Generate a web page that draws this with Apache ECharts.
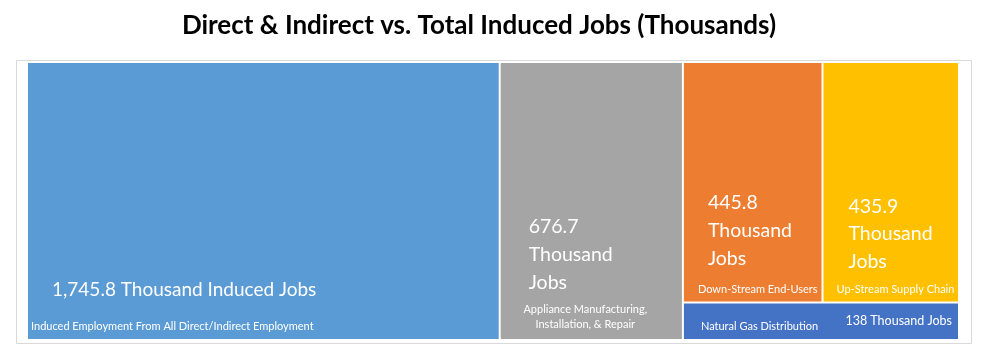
<!DOCTYPE html>
<html>
<head>
<meta charset="utf-8">
<script src="https://cdn.jsdelivr.net/npm/echarts@6/dist/echarts.min.js"></script>
<style>
  html, body { margin: 0; padding: 0; background: #ffffff; }
  #chart { width: 989px; height: 358px; }
</style>
</head>
<body>
<div id="chart"></div>
<script>
// ---- data ----
const categories = [
  'Induced Employment From All Direct/Indirect Employment',
  'Appliance Manufacturing, Installation, & Repair',
  'Down-Stream End-Users',
  'Up-Stream Supply Chain',
  'Natural Gas Distribution'
];
const jobs = [1745.8, 676.7, 445.8, 435.9, 138];
const jobUnits = ['Thousand Induced Jobs', 'Thousand Jobs', 'Thousand Jobs', 'Thousand Jobs', 'Thousand Jobs'];
const colors = ['#5B9BD5', '#A5A5A5', '#ED7D31', '#FFC000', '#4472C4'];
const titleText = 'Direct & Indirect vs. Total Induced Jobs (Thousands)';

// ---- label styling (per tile) ----
const FONT = 'Lato';
function fmt(v) { return v.toLocaleString('en-US', { maximumFractionDigits: 1 }); }
function rows(lines) { return lines.map(function (l) { return '{' + l[0] + '|' + l[1] + '}'; }).join('\n'); }
function stacked(val, unit) { return [val].concat(unit.split(' ')).map(function (t) { return ['v', t]; }); }

const labelStyles = [
  { padding: [199, 5, 0, 3],
    rich: { v: { fontSize: 19, lineHeight: 56, padding: [0, 0, 0, 21] }, n: { fontSize: 11, lineHeight: 16 } },
    text: function (val, unit, name) { return rows([['v', val + ' ' + unit], ['n', name]]); } },
  { padding: [150, 17, 0, 5],
    rich: { v: { fontSize: 19.5, lineHeight: 28, padding: [0, 0, 0, 23] }, s: { fontSize: 2, lineHeight: 5 }, n: { fontSize: 11, lineHeight: 15, align: 'center' } },
    text: function (val, unit, name) {
      return rows(stacked(val, unit).concat([['s', ' ']], name.replace(', ', ',\n').split('\n').map(function (t) { return ['n', t]; })));
    } },
  { padding: [126, 2, 0, 14],
    rich: { v: { fontSize: 19.5, lineHeight: 28, padding: [0, 0, 0, 10] }, s: { fontSize: 2, lineHeight: 11 }, n: { fontSize: 11, lineHeight: 10 } },
    text: function (val, unit, name) { return rows(stacked(val, unit).concat([['s', ' '], ['n', name]])); } },
  { padding: [129.5, 2, 0, 13],
    rich: { v: { fontSize: 19.5, lineHeight: 27.5, padding: [0, 0, 0, 12] }, s: { fontSize: 2, lineHeight: 9 }, n: { fontSize: 11, lineHeight: 10 } },
    text: function (val, unit, name) { return rows(stacked(val, unit).concat([['s', ' '], ['n', name]])); } },
  { padding: [8, 6, 0, 17],
    rich: { n: { fontSize: 11, lineHeight: 20, padding: [10, 0, 0, 0] }, v: { fontSize: 12.5, lineHeight: 20, align: 'right' } },
    text: function (val, unit, name) { return '{n|' + name + '}{v|' + val + ' ' + unit + '}'; } }
];

function leaf(i) {
  const st = labelStyles[i];
  const rich = {};
  Object.keys(st.rich).forEach(function (k) {
    rich[k] = Object.assign({ fontFamily: FONT, color: '#ffffff' }, st.rich[k]);
  });
  const txt = st.text(fmt(jobs[i]), jobUnits[i], categories[i]);
  return {
    name: categories[i],
    value: jobs[i],
    itemStyle: { color: colors[i] },
    label: {
      show: true,
      position: 'insideTopLeft',
      distance: 0,
      padding: st.padding,
      fontFamily: FONT,
      color: '#ffffff',
      overflow: 'none',
      formatter: function () { return txt; },
      rich: rich
    }
  };
}

// hierarchy: induced | appliance | [ [down-stream, up-stream], distribution ]
const treeData = [
  leaf(0),
  leaf(1),
  { name: 'Natural gas value chain', children: [
    { name: 'Supply and end-use', children: [leaf(2), leaf(3)] },
    leaf(4)
  ] }
];

const chart = echarts.init(document.getElementById('chart'), null, { renderer: 'canvas' });
const lvl = { itemStyle: { borderWidth: 0, gapWidth: 2, borderColor: '#ffffff' }, upperLabel: { show: false } };
chart.setOption({
  animation: false,
  backgroundColor: '#ffffff',
  textStyle: { fontFamily: FONT },
  title: {
    text: titleText,
    left: 479,
    top: 13,
    padding: 0,
    textAlign: 'center',
    textStyle: { fontFamily: FONT, fontWeight: 'bold', fontSize: 26, color: '#000000' }
  },
  graphic: [{
    type: 'rect', silent: true, z: -1,
    shape: { x: 16.5, y: 60.5, width: 955, height: 283 },
    style: { fill: 'none', stroke: '#d9d9d9', lineWidth: 1 }
  }],
  series: [{
    type: 'treemap',
    left: 28, top: 63, width: 930, height: 276,
    roam: false,
    nodeClick: false,
    silent: true,
    sort: false,
    squareRatio: 1,
    breadcrumb: { show: false },
    upperLabel: { show: false },
    itemStyle: { borderWidth: 0, gapWidth: 2, borderColor: '#ffffff' },
    levels: [lvl, lvl, lvl, lvl],
    data: treeData
  }]
});
</script>
</body>
</html>
